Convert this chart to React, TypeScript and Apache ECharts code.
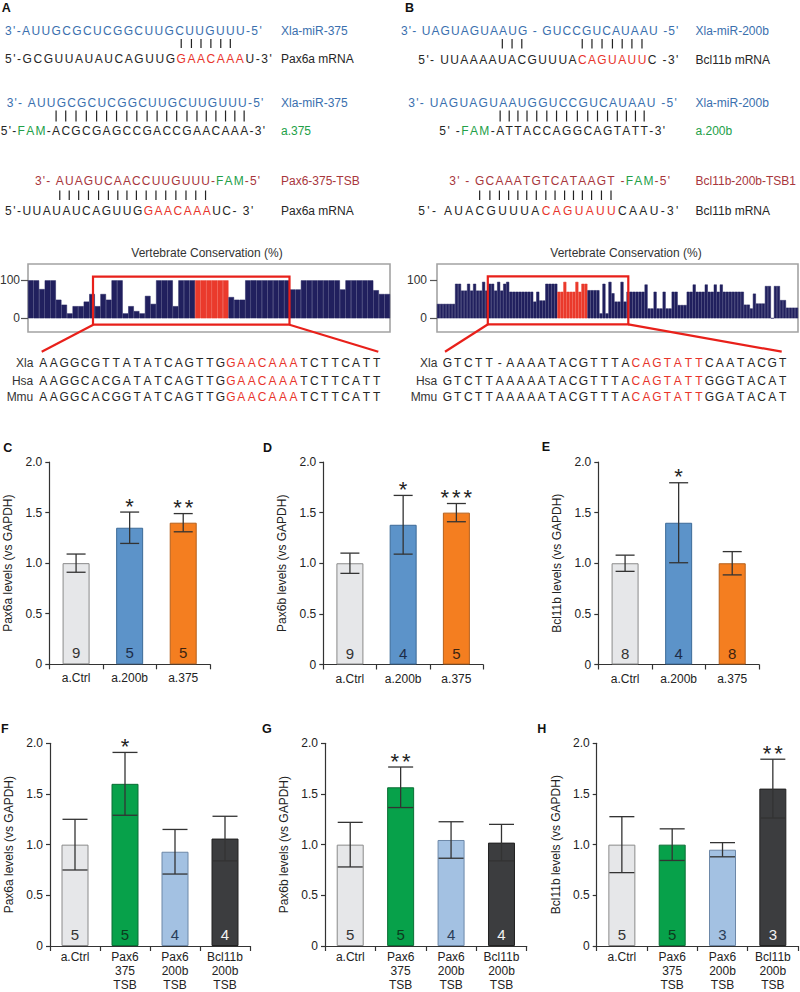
import React, { useEffect, useRef } from "react";
import * as echarts from "echarts";

const FONT = '"Liberation Sans", Arial, Helvetica, sans-serif';

// ---------- Conservation profiles (percent) ----------
const consA = [100, 100, 77, 100, 100, 49, 36, 13, 32, 32,
  44, 64, 32, 64, 49, 100, 100, 13, 32, 19,
  13, 59, 38, 100, 100, 100, 32, 100, 100, 100,
  100, 100, 100, 100, 100, 100, 56, 49, 49, 100,
  100, 100, 100, 100, 100, 100, 100, 76, 76, 100,
  100, 100, 100, 100, 100, 100, 76, 100, 100, 100,
  100, 100, 74, 64, 64];
const consARed = [30, 35];
const consB = [38, 38, 38, 38, 38, 38, 91, 91, 73, 73,
  91, 73, 91, 73, 73, 96, 73, 91, 91, 73,
  96, 73, 91, 96, 70, 70, 70, 70, 70, 70,
  70, 70, 44, 70, 47, 47, 91, 91, 91, 91,
  70, 70, 96, 70, 70, 70, 96, 70, 91, 91,
  74, 74, 74, 74, 13, 91, 13, 96, 66, 44,
  44, 96, 44, 70, 70, 70, 70, 70, 70, 89,
  26, 26, 70, 26, 26, 70, 26, 26, 70, 70,
  35, 35, 35, 70, 70, 89, 70, 70, 70, 89,
  70, 70, 89, 70, 89, 70, 70, 70, 70, 70,
  70, 70, 36, 36, 26, 65, 39, 39, 39, 85,
  85, 0, 85, 85, 48, 48, 28, 28, 28, 28];
const consBRed = [40, 49];
const consTickValues = [0, 100];

// ---------- Bar charts ----------
const catsCDE = ["a.Ctrl", "a.200b", "a.375"];
const catsFGH = ["a.Ctrl", "Pax6\n375\nTSB", "Pax6\n200b\nTSB", "Bcl11b\n200b\nTSB"];

const meanC = [1.0, 1.35, 1.4];
const errC = [0.09, 0.155, 0.09];
const nC = [9, 5, 5];
const sigC = ["", "*", "**"];

const meanD = [1.0, 1.38, 1.5];
const errD = [0.1, 0.29, 0.09];
const nD = [9, 4, 5];
const sigD = ["", "*", "***"];

const meanE = [1.0, 1.4, 1.0];
const errE = [0.08, 0.395, 0.115];
const nE = [8, 4, 8];
const sigE = ["", "*", ""];

const meanF = [1.0, 1.6, 0.93, 1.06];
const errF = [0.25, 0.31, 0.22, 0.22];
const nF = [5, 5, 4, 4];
const sigF = ["", "*", "", ""];

const meanG = [1.0, 1.566, 1.046, 1.02];
const errG = [0.22, 0.2, 0.18, 0.18];
const nG = [5, 5, 4, 4];
const sigG = ["", "**", "", ""];

const meanH = [1.0, 1.0, 0.95, 1.553];
const errH = [0.276, 0.156, 0.07, 0.29];
const nH = [5, 5, 3, 3];
const sigH = ["", "", "", "**"];

// ---------- colours ----------
const BLUE = "#3a6fae";
const INK = "#262626";
const RED = "#e8342b";
const DRED = "#a8363c";
const GREEN = "#22a048";
const NAVY = "#21205e";
const CONS_RED = "#ea3a2c";
const AXIS = "#333333";

const fillCDE = ["#e6e7e9", "#5c93c9", "#f47e20"];
const bordCDE = ["#8a8a8a", "#3c6a98", "#b4601c"];
const ncolCDE = ["#333333", "#1c2c48", "#3d2410"];
const fillFGH = ["#e6e7e9", "#07a14a", "#a3c1e2", "#3c3d3f"];
const bordFGH = ["#8a8a8a", "#0a6e34", "#6d88a8", "#222222"];
const ncolFGH = ["#333333", "#0c3b1e", "#2a3d58", "#f2f2f2"];

// ---------- text helpers ----------
let mctx: any = null;
function measure(s: string, font: string) {
  if (!mctx) mctx = document.createElement("canvas").getContext("2d");
  mctx.font = font;
  return mctx.measureText(s).width;
}

function textEl(x: number, y: number, text: string, fill: string, size: number, align = "left", weight = "normal", z = 50) {
  return {
    type: "text", x, y, silent: true, z,
    style: {
      text, fill, font: `${weight} ${size}px ${FONT}`,
      align, verticalAlign: "middle", textAlign: align, textVerticalAlign: "middle",
    },
  };
}

type Seg = [string, string];

function flatten(segs: Seg[]) {
  const chars: string[] = [];
  const cols: string[] = [];
  segs.forEach(([s, c]) => { for (const ch of s) { chars.push(ch); cols.push(c); } });
  return { chars, cols };
}

function buildSpaced(segs: Seg[], x0: number, x1: number, y: number, size = 12) {
  const { chars, cols } = flatten(segs);
  const font = `${size}px ${FONT}`;
  const ws = chars.map((c) => measure(c, font));
  const total = ws.reduce((a, b) => a + b, 0);
  const sp = (x1 - x0 - total) / (chars.length - 1);
  const els: any[] = [];
  const centers: number[] = [];
  let x = x0;
  chars.forEach((ch, i) => {
    centers.push(x + ws[i] / 2);
    if (ch !== " ") els.push(textEl(x + ws[i] / 2, y, ch, cols[i], size, "center"));
    x += ws[i] + sp;
  });
  return { els, centers };
}

function buildPitched(segs: Seg[], c0: number, pitch: number, y: number, size = 12) {
  const { chars, cols } = flatten(segs);
  return chars.map((ch, i) => textEl(c0 + i * pitch, y, ch, cols[i], size, "center"));
}

// ---------- sequence content ----------
const seqA: { segs: Seg[]; x0: number; x1: number; y: number }[] = [
  { segs: [["3'-AUUGCGCUCGGCUUGCUUGUUU-5'", BLUE]], x0: 5, x1: 261.7, y: 31 },
  { segs: [["5'-GCGUUAUAUCAGUUG", INK], ["GAACAAA", RED], ["U-3'", INK]], x0: 5, x1: 271.7, y: 59 },
  { segs: [["3'- AUUGCGCUCGGCUUGCUUGUUU-5'", BLUE]], x0: 6.7, x1: 263.3, y: 102.5 },
  { segs: [["5'-", INK], ["FAM", GREEN], ["-ACGCGAGCCGACCGAACAAA-3'", INK]], x0: 0.7, x1: 265, y: 131 },
  { segs: [["3'- AUAGUCAACCUUGUUU-", DRED], ["FAM", GREEN], ["-5'", DRED]], x0: 35, x1: 260, y: 181 },
  { segs: [["5'-UUAUAUCAGUUG", INK], ["GAACAAA", RED], ["UC- 3'", INK]], x0: 5, x1: 253.3, y: 211 },
];
const seqB: { segs: Seg[]; x0: number; x1: number; y: number }[] = [
  { segs: [["3'- UAGUAGUAAUG - GUCCGUCAUAAU -5'", BLUE]], x0: 401, x1: 678.3, y: 31 },
  { segs: [["5'- UUAAAAUACGUUUA", INK], ["CAGUAUU", RED], ["C -3'", INK]], x0: 418.3, x1: 678.3, y: 60 },
  { segs: [["3'- UAGUAGUAAUGGUCCGUCAUAAU -5'", BLUE]], x0: 408.3, x1: 676.7, y: 102.5 },
  { segs: [["5' -", INK], ["FAM", GREEN], ["-ATTACCAGGCAGTATT-3'", INK]], x0: 439.3, x1: 665, y: 131 },
  { segs: [["3' - GCAAATGTCATAAGT -", DRED], ["FAM", GREEN], ["-5'", DRED]], x0: 449.3, x1: 670, y: 181 },
  { segs: [["5'- AUACGUUUA", INK], ["CAGUAUU", RED], ["CAAU-3'", INK]], x0: 418.3, x1: 678.3, y: 211 },
];
const labelsA: [string, string, number][] = [
  ["Xla-miR-375", BLUE, 31], ["Pax6a mRNA", INK, 59], ["Xla-miR-375", BLUE, 102.5],
  ["a.375", GREEN, 131], ["Pax6-375-TSB", DRED, 181], ["Pax6a mRNA", INK, 211],
];
const labelsB: [string, string, number][] = [
  ["Xla-miR-200b", BLUE, 31], ["Bcl11b mRNA", INK, 60], ["Xla-miR-200b", BLUE, 102.5],
  ["a.200b", GREEN, 131], ["Bcl11b-200b-TSB1", DRED, 181], ["Bcl11b mRNA", INK, 211],
];
// pairing ticks: [line index, first char, last char, y1, y2]
const ticksA: [number, number, number, number, number][] = [
  [1, 18, 23, 39, 48], [3, 7, 26, 110.5, 121.5], [4, 4, 19, 190.5, 200],
];
const ticksB: [number, number, number, number, number][] = [
  [1, 10, 12, 39, 48.5], [1, 18, 24, 39, 48.5], [3, 8, 23, 110.5, 121.5], [4, 5, 19, 190.5, 200],
];
const speciesNames = ["Xla", "Hsa", "Mmu"];
const alignA: Seg[][] = [
  [["AAGGCGTTATATCAGTTG", INK], ["GAACAAA", RED], ["TCTTCATT", INK]],
  [["AAGGCACGATATCAGTTG", INK], ["GAACAAA", RED], ["TCTTCATT", INK]],
  [["AAGGCACGGTATCAGTTG", INK], ["GAACAAA", RED], ["TCTTCATT", INK]],
];
const alignB: Seg[][] = [
  [["GTCTT-AAAATACGTTTA", INK], ["CAGTATT", RED], ["CAATACGT", INK]],
  [["GTCTTAAAAATACGTTTA", INK], ["CAGTATT", RED], ["GGGTACAT", INK]],
  [["GTCTTAAAAATACGTTTA", INK], ["CAGTATT", RED], ["GGATACAT", INK]],
];
const alignRowsY = [363.3, 380.7, 396.7];

// ---------- layout ----------
const consGrids = [
  { left: 28, top: 264, width: 362, height: 68 },
  { left: 437, top: 264, width: 361, height: 68 },
];
const barGrids = [
  { left: 49.3, top: 462, width: 160.7, height: 202.3 },
  { left: 323.3, top: 462, width: 159.7, height: 202.5 },
  { left: 598.3, top: 462, width: 160.7, height: 202.5 },
  { left: 50, top: 743.3, width: 200, height: 202.7 },
  { left: 325, top: 743.3, width: 201.7, height: 202.7 },
  { left: 596.7, top: 743.3, width: 201.3, height: 202.7 },
];

function makeErr(sigs: string[], capW: number) {
  return (params: any, api: any) => {
    const i = api.value(0), m = api.value(1), e = api.value(2);
    const top = api.coord([i, m + e]);
    const bot = api.coord([i, m - e]);
    const st = { stroke: "#333", lineWidth: 1.3 };
    const ch: any[] = [
      { type: "line", shape: { x1: top[0], y1: top[1], x2: bot[0], y2: bot[1] }, style: st },
      { type: "line", shape: { x1: top[0] - capW / 2, y1: top[1], x2: top[0] + capW / 2, y2: top[1] }, style: st },
      { type: "line", shape: { x1: bot[0] - capW / 2, y1: bot[1], x2: bot[0] + capW / 2, y2: bot[1] }, style: st },
    ];
    const s = sigs[params.dataIndex] || "";
    for (let k = 0; k < s.length; k++) {
      ch.push({
        type: "text", x: top[0] + (k - (s.length - 1) / 2) * 11.5, y: top[1] - 6,
        style: { text: "*", fill: "#222", font: `22px ${FONT}`, align: "center", verticalAlign: "middle", textAlign: "center", textVerticalAlign: "middle" },
      });
    }
    return { type: "group", children: ch };
  };
}

function buildOption() {
  const grid: any[] = [];
  const xAxis: any[] = [];
  const yAxis: any[] = [];
  const series: any[] = [];

  // conservation panels
  [[consA, consARed, 8], [consB, consBRed, 10]].forEach(([vals, red, margin]: any, gi) => {
    grid.push({ ...consGrids[gi], show: true, borderColor: "#a3a3a3", borderWidth: 1.6, backgroundColor: "transparent", containLabel: false, outerBoundsMode: "none" });
    xAxis.push({ type: "category", gridIndex: gi, data: vals.map((_: number, i: number) => String(i)), show: false });
    yAxis.push({
      type: "value", gridIndex: gi, min: -36, max: 143,
      axisLine: { show: false }, splitLine: { show: false },
      axisTick: { show: true, customValues: consTickValues, length: 7, lineStyle: { color: "#555", width: 1.2 } },
      axisLabel: { customValues: consTickValues, fontSize: 12, color: "#333", margin, fontFamily: FONT },
    });
    series.push({
      type: "bar", xAxisIndex: gi, yAxisIndex: gi, barCategoryGap: "0%", barGap: "0%", silent: true,
      data: vals.map((v: number, i: number) => {
        const c = i >= red[0] && i <= red[1] ? CONS_RED : NAVY;
        return { value: v, itemStyle: { color: c, borderColor: c, borderWidth: 0.5 } };
      }),
    });
  });

  const panels = [
    { cats: catsCDE, mean: meanC, err: errC, n: nC, sig: sigC, name: "Pax6a levels (vs GAPDH)", fill: fillCDE, bord: bordCDE, ncol: ncolCDE, cap: 19 },
    { cats: catsCDE, mean: meanD, err: errD, n: nD, sig: sigD, name: "Pax6b levels (vs GAPDH)", fill: fillCDE, bord: bordCDE, ncol: ncolCDE, cap: 19 },
    { cats: catsCDE, mean: meanE, err: errE, n: nE, sig: sigE, name: "Bcl11b levels (vs GAPDH)", fill: fillCDE, bord: bordCDE, ncol: ncolCDE, cap: 19 },
    { cats: catsFGH, mean: meanF, err: errF, n: nF, sig: sigF, name: "Pax6a levels (vs GAPDH)", fill: fillFGH, bord: bordFGH, ncol: ncolFGH, cap: 25 },
    { cats: catsFGH, mean: meanG, err: errG, n: nG, sig: sigG, name: "Pax6b levels (vs GAPDH)", fill: fillFGH, bord: bordFGH, ncol: ncolFGH, cap: 25 },
    { cats: catsFGH, mean: meanH, err: errH, n: nH, sig: sigH, name: "Bcl11b levels (vs GAPDH)", fill: fillFGH, bord: bordFGH, ncol: ncolFGH, cap: 25 },
  ];

  panels.forEach((p, k) => {
    const gi = k + 2;
    const four = p.cats.length === 4;
    grid.push({ ...barGrids[k], show: false, containLabel: false, outerBoundsMode: "none" });
    xAxis.push({
      type: "category", gridIndex: gi, data: p.cats,
      axisLine: { lineStyle: { color: AXIS, width: 1.2 } },
      axisTick: { show: true, length: 5, lineStyle: { color: AXIS, width: 1.2 } },
      axisLabel: { color: "#222", fontSize: 12, margin: four ? 4 : 7, lineHeight: four ? 13.8 : 14, fontFamily: FONT, interval: 0 },
    });
    yAxis.push({
      type: "value", gridIndex: gi, min: 0, max: 2, interval: 0.5,
      axisLine: { show: true, lineStyle: { color: AXIS, width: 1.2 } },
      axisTick: { show: true, length: 4, lineStyle: { color: AXIS, width: 1.2 } },
      splitLine: { show: false },
      axisLabel: { formatter: (v: number) => (v === 0 ? "0" : v.toFixed(1)), color: "#222", fontSize: 12, margin: 7, fontFamily: FONT },
      name: p.name, nameLocation: "middle", nameGap: 35,
      nameTextStyle: { fontSize: 12, color: "#222", fontFamily: FONT },
    });
    series.push({
      type: "bar", xAxisIndex: gi, yAxisIndex: gi, barWidth: 27, silent: true,
      data: p.mean.map((v, i) => ({
        value: v,
        itemStyle: { color: p.fill[i], borderColor: p.bord[i], borderWidth: 1 },
        label: { show: true, position: "insideBottom", distance: 4, formatter: String(p.n[i]), color: p.ncol[i], fontSize: 15, fontFamily: FONT },
      })),
    });
    series.push({
      type: "custom", xAxisIndex: gi, yAxisIndex: gi, z: 5, silent: true,
      data: p.mean.map((v, i) => [i, v, p.err[i]]),
      renderItem: makeErr(p.sig, p.cap),
    });
  });

  // graphics
  const g: any[] = [];
  const doSeq = (lines: any[], labels: [string, string, number][], labelX: number, ticks: any[]) => {
    const centersList: number[][] = [];
    lines.forEach((l) => {
      const r = buildSpaced(l.segs, l.x0, l.x1, l.y);
      g.push(...r.els);
      centersList.push(r.centers);
    });
    labels.forEach(([t, c, y]) => g.push(textEl(labelX, y, t, c, 12, "left")));
    ticks.forEach(([li, a, b, y1, y2]: number[]) => {
      for (let i = a; i <= b; i++) {
        const x = centersList[li][i];
        g.push({ type: "line", silent: true, z: 50, shape: { x1: x, y1, x2: x, y2 }, style: { stroke: "#222", lineWidth: 1.2 } });
      }
    });
  };
  doSeq(seqA, labelsA, 281, ticksA);
  doSeq(seqB, labelsB, 695.5, ticksB);

  // alignments
  alignA.forEach((segs, r) => {
    g.push(textEl(33.3, alignRowsY[r], speciesNames[r], "#333", 12, "right"));
    g.push(...buildPitched(segs, 43.3, 10.42, alignRowsY[r]));
  });
  alignB.forEach((segs, r) => {
    g.push(textEl(437.3, alignRowsY[r], speciesNames[r], "#333", 12, "right"));
    g.push(...buildPitched(segs, 447.3, 10.48, alignRowsY[r]));
  });

  // conservation titles
  g.push(textEl(207, 253, "Vertebrate Conservation (%)", "#333", 12, "center"));
  g.push(textEl(626, 253, "Vertebrate Conservation (%)", "#333", 12, "center"));

  // zoom boxes and connectors
  const redStroke = { stroke: "#e8201a", lineWidth: 2.2, fill: "none" };
  g.push({ type: "rect", silent: true, z: 60, shape: { x: 93, y: 276.7, width: 196.5, height: 48 }, style: redStroke });
  g.push({ type: "line", silent: true, z: 60, shape: { x1: 93.3, y1: 324.7, x2: 41.7, y2: 351.7 }, style: redStroke });
  g.push({ type: "line", silent: true, z: 60, shape: { x1: 289.5, y1: 324.7, x2: 378.3, y2: 351.7 }, style: redStroke });
  g.push({ type: "rect", silent: true, z: 60, shape: { x: 487.8, y: 276.3, width: 140.5, height: 48 }, style: redStroke });
  g.push({ type: "line", silent: true, z: 60, shape: { x1: 488, y1: 324.3, x2: 445, y2: 351.7 }, style: redStroke });
  g.push({ type: "line", silent: true, z: 60, shape: { x1: 628.3, y1: 324.3, x2: 781.7, y2: 351.7 }, style: redStroke });

  // panel letters
  const letters: [string, number, number][] = [
    ["A", 1.7, 8], ["B", 405, 8], ["C", 3.3, 447.5], ["D", 263, 447.5], ["E", 541.7, 447],
    ["F", 1, 729], ["G", 262, 729], ["H", 537.3, 729],
  ];
  letters.forEach(([t, x, y]) => g.push(textEl(x, y, t, "#111", 12.5, "left", "bold")));

  return {
    animation: false,
    backgroundColor: "#ffffff",
    textStyle: { fontFamily: FONT },
    grid, xAxis, yAxis, series,
    graphic: { elements: g },
  };
}

export default function App() {
  const ref = useRef<HTMLDivElement>(null);
  useEffect(() => {
    const chart = echarts.init(ref.current as HTMLDivElement, undefined, { renderer: "svg", width: 800, height: 992 });
    chart.setOption(buildOption() as any);
    return () => chart.dispose();
  }, []);
  return (
    <div
      ref={ref}
      style={{ position: "absolute", left: 0, top: 0, width: 800, height: 992, background: "#fff" }}
    />
  );
}
